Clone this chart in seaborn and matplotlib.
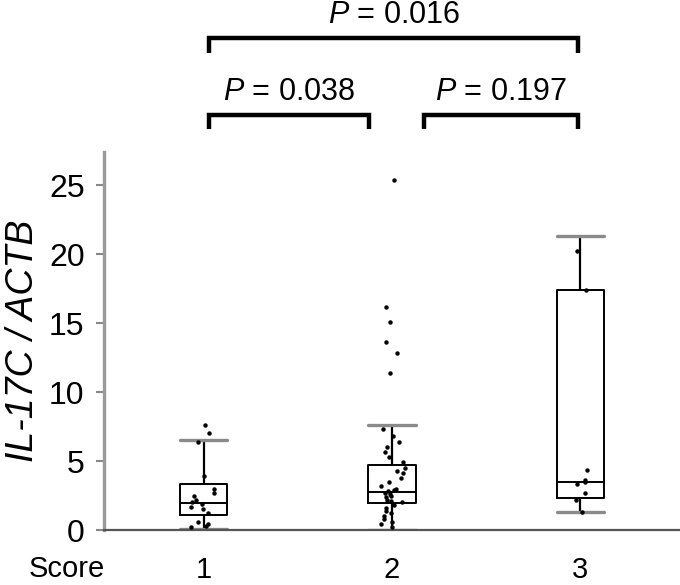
import numpy as np
import pandas as pd
import matplotlib
matplotlib.use("Agg")
import matplotlib.pyplot as plt
import matplotlib.transforms as mtransforms
import seaborn as sns

# ---- data ----
scores = ["1", "2", "3"]
score1_vals = [7.6, 7.0, 6.4, 3.9, 3.0, 2.7, 2.5, 2.2, 2.0, 1.9, 1.7, 1.5, 1.2, 0.6, 0.4, 0.3, 0.2]
score2_vals = [25.4, 16.2, 15.1, 13.6, 12.8, 11.4, 7.3, 6.8, 6.4, 6.0, 5.65, 5.3, 4.9, 4.5,
               4.3, 4.1, 3.8, 3.5, 3.2, 3.0, 2.9, 2.8, 2.7, 2.6, 2.5, 2.4, 2.2, 2.1, 2.0,
               1.8, 1.6, 1.4, 1.2, 1.0, 0.8, 0.6, 0.4, 0.2]
score3_vals = [20.2, 17.4, 4.35, 3.6, 3.45, 3.3, 2.7, 2.2, 1.3]

box_q1 = [1.09, 1.95, 2.35]
box_med = [1.98, 2.75, 3.5]
box_q3 = [3.33, 4.7, 17.4]
whisk_lo = [0.05, 0.0, 1.3]
whisk_hi = [6.5, 7.6, 21.3]

comparisons = [("1", "3"), ("1", "2"), ("2", "3")]
p_labels = ["0.016", "0.038", "0.197"]

yticks = [0, 5, 10, 15, 20, 25]

# ---- style ----
sns.set_theme(style="white")
plt.rcParams["font.family"] = ["Liberation Sans", "DejaVu Sans"]
plt.rcParams["mathtext.fontset"] = "custom"
plt.rcParams["mathtext.rm"] = "Liberation Sans"
plt.rcParams["mathtext.it"] = "Liberation Sans:italic"
plt.rcParams["text.color"] = "black"
plt.rcParams["axes.labelcolor"] = "black"
plt.rcParams["xtick.labelcolor"] = "black"
plt.rcParams["ytick.labelcolor"] = "black"

df = pd.DataFrame({
    "score": ["1"] * len(score1_vals) + ["2"] * len(score2_vals) + ["3"] * len(score3_vals),
    "value": score1_vals + score2_vals + score3_vals,
})

fig = plt.figure(figsize=(6.8, 5.85), dpi=100)
ax = fig.add_axes([104 / 680, 55 / 585, 576 / 680, 378 / 585])

stats = []
for i, s in enumerate(scores):
    stats.append(dict(q1=box_q1[i], med=box_med[i], q3=box_q3[i],
                      whislo=whisk_lo[i], whishi=whisk_hi[i], fliers=[], label=s))
ax.bxp(stats, positions=[0, 1, 2], widths=0.25, capwidths=0.25, showfliers=False,
       boxprops=dict(color="black", linewidth=1.4),
       medianprops=dict(color="black", linewidth=1.4),
       whiskerprops=dict(color="black", linewidth=1.6),
       capprops=dict(color="#8a8a8a", linewidth=2.4))

np.random.seed(3)
sns.stripplot(data=df, x="score", y="value", order=scores, color="black",
              size=3.2, jitter=0.07, ax=ax, zorder=3, clip_on=False)

ax.set_xlim(-0.53, 2.53)
ax.set_ylim(0, 27.4)
ax.set_yticks(yticks)
ax.set_yticklabels([str(t) for t in yticks], fontsize=23)
ax.set_xticks([0, 1, 2])
ax.set_xticklabels(scores, fontsize=21)
ax.tick_params(axis="x", length=0, pad=19)
ax.tick_params(axis="y", length=6, width=1.5, color="#888888", pad=8, direction="out", left=True)
ax.set_xlabel("")
ax.set_ylabel("IL-17C / ACTB", fontsize=27, fontstyle="italic", labelpad=6)
for side in ["top", "right"]:
    ax.spines[side].set_visible(False)
ax.spines["left"].set_color("#9a9a9a")
ax.spines["left"].set_linewidth(2.4)
ax.spines["bottom"].set_color("#555555")
ax.spines["bottom"].set_linewidth(1.6)

fig.text(67 / 680, 1 - 569 / 585, "Score", fontsize=21, ha="center", va="center")

# significance brackets: x in data, y in figure fraction
trans = mtransforms.blended_transform_factory(ax.transData, fig.transFigure)
bracket_specs = [
    (0.03, 1.99, 1 - 38 / 585, 1 - 53 / 585, 1 - 23 / 585),
    (0.03, 0.88, 1 - 115 / 585, 1 - 129 / 585, 1 - 100 / 585),
    (1.17, 1.99, 1 - 115 / 585, 1 - 129 / 585, 1 - 100 / 585),
]
for (x0, x1, yh, yl, yt), p in zip(bracket_specs, p_labels):
    ax.plot([x0, x0, x1, x1], [yl, yh, yh, yl], transform=trans, color="black",
            linewidth=3.2, clip_on=False, solid_joinstyle="miter", solid_capstyle="butt")
    ax.text((x0 + x1) / 2, yt, r"$\mathit{P}$ = " + p, transform=trans,
            ha="center", va="baseline", fontsize=22)

fig.savefig("out.png", dpi=100)
